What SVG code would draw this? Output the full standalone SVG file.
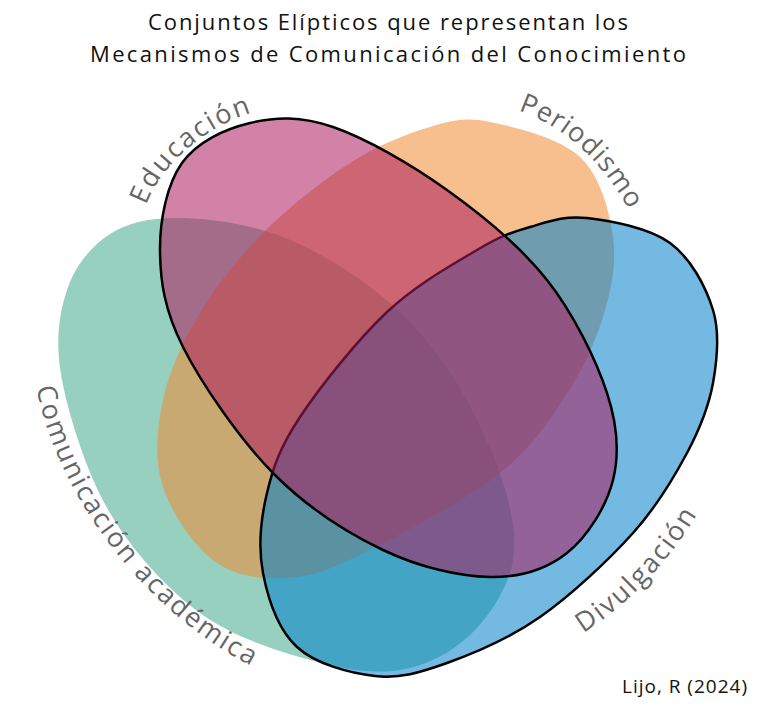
<svg xmlns="http://www.w3.org/2000/svg" width="768" height="717" viewBox="0 0 768 717">
<style>
.title{font-family:"Open Sans","Liberation Sans",sans-serif;font-size:22px;fill:#111;text-anchor:middle}
.lbl{font-family:"Open Sans","Liberation Sans",sans-serif;font-size:27px;fill:#666;letter-spacing:2px}
.credit{font-family:"Open Sans","Liberation Sans",sans-serif;font-size:19px;fill:#111;text-anchor:end}
.set{fill-opacity:0.55}
.edge{stroke:#000;stroke-width:2.5}
</style>
<defs>
<path id="pEdu" d="M 146,206 C 158,170 200,128 254,112"/>
<path id="pPer" d="M 495,104 Q 590,124 640,232"/>
<path id="pCom" d="M 36,385 C 55,490 140,610 255,668"/>
<path id="pDiv" d="M 585,632 Q 650,590 697,515"/>
</defs>
<rect width="768" height="717" fill="#fff"/>
<text class="title" x="388" y="30" textLength="480" lengthAdjust="spacing">Conjuntos Elípticos que representan los</text>
<text class="title" x="388" y="62" textLength="596" lengthAdjust="spacing">Mecanismos de Comunicación del Conocimiento</text>
<g id="comunicacion">
<path class="set" fill="#42a98a" d="M 180,218 C 208.8,218.5 249.2,223.8 283,237 C 316.8,250.2 354.7,273.7 383,297 C 411.3,320.3 433,346 453,377 C 473,408 493.2,451.7 503,483 C 512.8,514.3 517.5,539.7 512,565 C 506.5,590.3 488.7,617.5 470,635 C 451.3,652.5 426.7,665.8 400,670 C 373.3,674.2 343.3,669.5 310,660 C 276.7,650.5 233.3,637.5 200,613 C 166.7,588.5 133,551.8 110,513 C 87,474.2 69.2,417.2 62,380 C 54.8,342.8 59,314.3 67,290 C 75,265.7 91.2,246 110,234 C 128.8,222 151.2,217.5 180,218 Z"/>
<text class="lbl"><textPath href="#pCom" startOffset="50%" text-anchor="middle">Comunicación académica</textPath></text>
</g>
<g id="periodismo">
<path class="set" fill="#f08831" d="M 490,122 C 515,127 559.5,137.8 580,157 C 600.5,176.2 609.2,210.3 613,237 C 616.8,263.7 611.3,289.8 603,317 C 594.7,344.2 580.2,374 563,400 C 545.8,426 530,449.2 500,473 C 470,496.8 416.8,525.7 383,543 C 349.2,560.3 324.7,573.7 297,577 C 269.3,580.3 239.3,578 217,563 C 194.7,548 172,514.2 163,487 C 154,459.8 156.8,429 163,400 C 169.2,371 183.3,340.8 200,313 C 216.7,285.2 238,258 263,233 C 288,208 322.2,180.7 350,163 C 377.8,145.3 406.7,133.8 430,127 C 453.3,120.2 465,117 490,122 Z"/>
<text class="lbl" style="letter-spacing:1px"><textPath href="#pPer" startOffset="50%" text-anchor="middle">Periodismo</textPath></text>
</g>
<g id="divulgacion">
<path class="set edge" fill="#007fca" d="M 587,218 C 610.3,220.7 649,227.7 670,243 C 691,258.3 705.8,286.7 713,310 C 720.2,333.3 717.3,359.2 713,383 C 708.7,406.8 700.3,428 687,453 C 673.7,478 657.5,505.7 633,533 C 608.5,560.3 571,595.3 540,617 C 509,638.7 474.5,653.2 447,663 C 419.5,672.8 400,678.7 375,676 C 350,673.3 315.7,664.2 297,647 C 278.3,629.8 268,598.7 263,573 C 258,547.3 260.8,519 267,493 C 273.2,467 280,447.2 300,417 C 320,386.8 357.5,339.8 387,312 C 416.5,284.2 453.2,264.2 477,250 C 500.8,235.8 511.7,232.3 530,227 C 548.3,221.7 563.7,215.3 587,218 Z"/>
<text class="lbl"><textPath href="#pDiv" startOffset="50%" text-anchor="middle">Divulgación</textPath></text>
</g>
<g id="educacion">
<path class="set edge" fill="#ad1b5d" d="M 250,123 C 275.2,117 300.2,115.8 333,127 C 365.8,138.2 411.3,164.5 447,190 C 482.7,215.5 520.3,246.2 547,280 C 573.7,313.8 596,359.7 607,393 C 618,426.3 619.7,453.3 613,480 C 606.3,506.7 587.5,536.8 567,553 C 546.5,569.2 520.7,577.5 490,577 C 459.3,576.5 419.2,567.3 383,550 C 346.8,532.7 306.3,506.8 273,473 C 239.7,439.2 201.8,384.2 183,347 C 164.2,309.8 160.2,280.7 160,250 C 159.8,219.3 167,184.2 182,163 C 197,141.8 224.8,129 250,123 Z"/>
<text class="lbl"><textPath href="#pEdu" startOffset="50%" text-anchor="middle">Educación</textPath></text>
</g>
<text class="credit" x="747" y="693" textLength="125" lengthAdjust="spacing">Lijo, R (2024)</text>
</svg>
